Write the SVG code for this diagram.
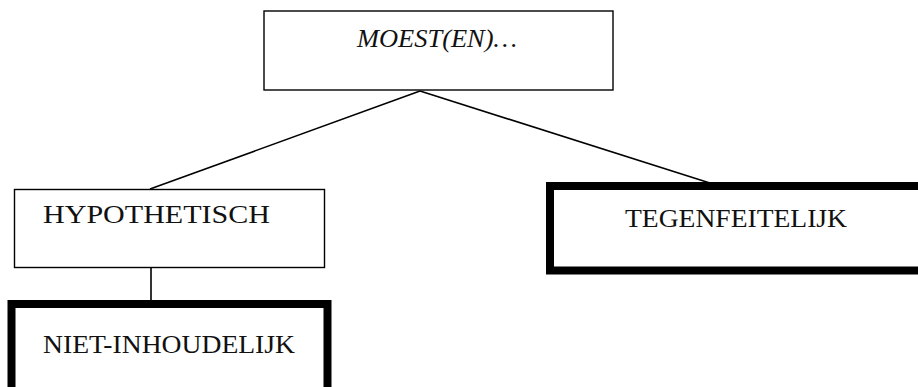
<svg xmlns="http://www.w3.org/2000/svg" width="918" height="387" viewBox="0 0 918 387">
<style>
.thin{fill:#fff;stroke:#000;stroke-width:1.4}
.thick{fill:#fff;stroke:#000;stroke-width:8}
.lbl{font-family:"Liberation Serif",serif;font-size:25px;fill:#111}
.conn{stroke:#000;stroke-width:1.6;fill:none}
</style>
<rect width="918" height="387" fill="#fff"/>
<g id="connectors">
<line class="conn" x1="420" y1="91" x2="150" y2="189"/>
<line class="conn" x1="420" y1="91" x2="713" y2="184"/>
<line class="conn" x1="151" y1="268" x2="151" y2="302"/>
</g>
<g id="moesten">
<rect class="thin" x="264" y="11" width="349" height="79"/>
<text class="lbl" x="357" y="47" font-style="italic" textLength="160" lengthAdjust="spacingAndGlyphs">MOEST(EN)…</text>
</g>
<g id="hypothetisch">
<rect class="thin" x="14.5" y="189.5" width="310" height="78"/>
<text class="lbl" x="43" y="223" textLength="227" lengthAdjust="spacingAndGlyphs">HYPOTHETISCH</text>
</g>
<g id="tegenfeitelijk">
<rect class="thick" x="550" y="186" width="380" height="84.5"/>
<text class="lbl" x="625" y="227" textLength="222" lengthAdjust="spacingAndGlyphs">TEGENFEITELIJK</text>
</g>
<g id="niet-inhoudelijk">
<rect class="thick" x="11.5" y="304" width="316" height="100"/>
<text class="lbl" x="43" y="353" textLength="252" lengthAdjust="spacingAndGlyphs">NIET-INHOUDELIJK</text>
</g>
</svg>
